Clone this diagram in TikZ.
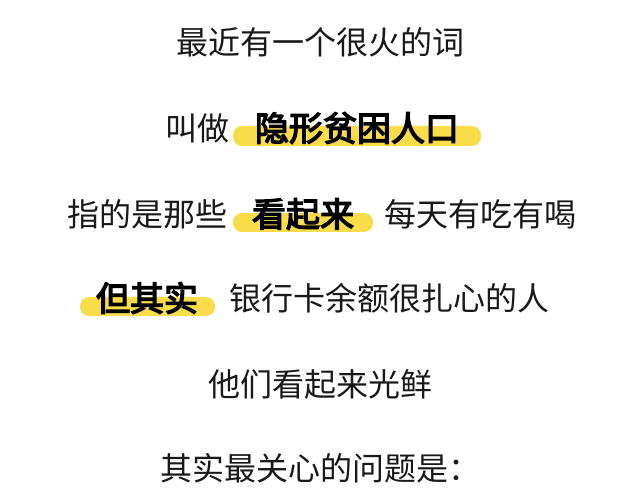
\documentclass[tikz,border=0pt]{standalone}
\usepackage{fontspec}
\newfontfamily\cjk{Noto Sans CJK SC}
\newfontfamily\cjkb{Noto Sans CJK SC}[FakeBold=4]
\definecolor{hl}{HTML}{F8DC4A}
\tikzset{
  txt/.style={inner sep=0pt, font=\cjk\fontsize{32}{32}\selectfont, text=black!90, anchor=center},
  btxt/.style={inner sep=0pt, font=\cjkb\fontsize{34}{34}\selectfont, text=black, anchor=center},
  bar/.style={fill=hl, rounded corners=9pt, draw=none}
}
\begin{document}
\begin{tikzpicture}[x=1pt,y=1pt]
\useasboundingbox[fill=white] (0,0) rectangle (640,502);
\node[txt] (l1) at (320,460) {最近有一个很火的词};
% line 2
\fill[bar] (233,356) rectangle (481,376);
\node[txt] (l2a) at (197,374) {叫做};
\node[btxt] (l2b) at (357,374) {隐形贫困人口};
% line 3
\fill[bar] (233,270) rectangle (373,289);
\node[txt] (l3a) at (147,288) {指的是那些};
\node[btxt] (l3b) at (303,288) {看起来};
\node[txt] (l3c) at (480,288) {每天有吃有喝};
% line 4
\fill[bar] (80,186) rectangle (215,205);
\node[btxt] (l4a) at (147,204) {但其实};
\node[txt] (l4b) at (389,204) {银行卡余额很扎心的人};
% line 5
\node[txt] (l5) at (320,118) {他们看起来光鲜};
% line 6
\node[txt] (l6) at (320,34) {其实最关心的问题是：};
\end{tikzpicture}
\end{document}
